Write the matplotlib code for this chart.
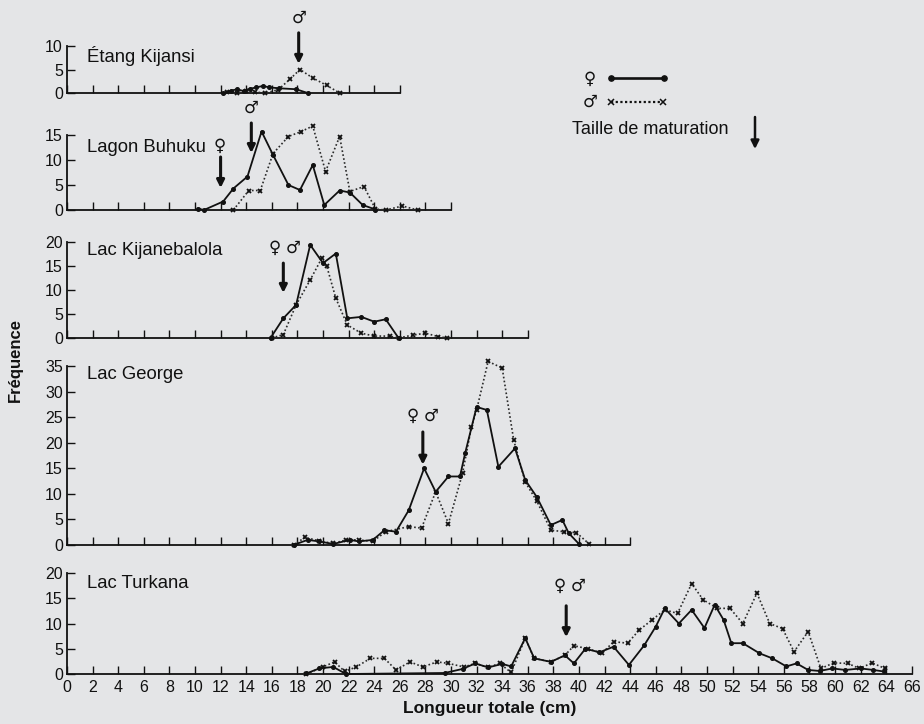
import matplotlib
matplotlib.use('Agg')
import matplotlib.pyplot as plt
from matplotlib.lines import Line2D
from matplotlib.patches import FancyArrowPatch

plt.rcParams['font.family'] = ['Liberation Sans', 'DejaVu Sans']

# ---------------- data ----------------
kijansi_f_x = [12.2, 12.8, 13.3, 13.8, 14.3, 14.8, 15.3, 15.8, 16.6, 17.9, 18.8]
kijansi_f_y = [0.0, 0.5, 0.8, 0.4, 0.9, 1.2, 1.5, 1.2, 1.0, 0.8, 0.0]
kijansi_m_x = [12.5, 13.3, 14.0, 14.7, 15.5, 16.5, 17.4, 18.2, 19.2, 20.3, 21.3]
kijansi_m_y = [0.2, 0.0, 0.5, 0.2, 0.0, 0.7, 2.9, 5.0, 3.2, 1.6, 0.0]

buhuku_f_x = [10.2, 10.7, 12.2, 13.0, 14.1, 15.2, 16.1, 17.3, 18.2, 19.2, 20.1, 21.3, 22.1, 23.1, 24.1]
buhuku_f_y = [0.3, 0.0, 1.7, 4.3, 6.7, 15.7, 11.0, 5.0, 4.0, 9.0, 1.0, 3.9, 3.5, 1.0, 0.1]
buhuku_m_x = [13.0, 14.2, 15.1, 16.1, 17.3, 18.3, 19.2, 20.2, 21.3, 22.1, 23.2, 24.1, 24.9, 26.2, 27.4]
buhuku_m_y = [0.0, 3.9, 3.9, 11.3, 14.7, 15.7, 16.8, 7.7, 14.7, 3.7, 4.7, 0.2, 0.0, 0.8, 0.0]

kijaneb_f_x = [15.9, 16.9, 17.9, 19.0, 20.0, 21.0, 21.9, 23.0, 24.0, 24.9, 25.9]
kijaneb_f_y = [0.0, 4.1, 6.9, 19.4, 15.6, 17.6, 4.1, 4.4, 3.4, 3.9, 0.0]
kijaneb_m_x = [16.0, 16.9, 17.9, 19.0, 19.9, 20.3, 21.0, 21.9, 23.0, 24.0, 25.2, 25.9, 27.0, 28.0, 29.0, 29.7]
kijaneb_m_y = [0.0, 0.7, 6.9, 12.1, 16.6, 14.9, 8.3, 2.7, 1.0, 0.4, 0.4, 0.0, 0.6, 1.0, 0.3, 0.0]

george_f_x = [17.7, 18.8, 19.7, 20.8, 22.1, 22.8, 23.9, 24.8, 25.7, 26.7, 27.9, 28.8, 29.8, 30.7,
              31.1, 32.0, 32.8, 33.7, 35.0, 35.8, 36.7, 37.8, 38.7, 39.2, 40.0]
george_f_y = [0.0, 1.0, 0.7, 0.2, 1.0, 0.7, 1.0, 2.9, 2.6, 6.8, 15.0, 10.4, 13.4, 13.4,
              17.9, 27.0, 26.4, 15.3, 18.9, 12.7, 9.4, 3.9, 4.9, 2.3, 0.2]
george_m_x = [17.7, 18.6, 19.7, 20.8, 21.8, 22.8, 23.9, 24.9, 26.7, 27.7, 28.8, 29.8, 30.9, 31.6,
              32.0, 32.9, 34.0, 34.9, 35.8, 36.7, 37.8, 38.8, 39.8, 40.8]
george_m_y = [0.0, 1.5, 0.8, 0.3, 1.0, 1.0, 0.7, 2.6, 3.6, 3.3, 10.4, 4.2, 14.0, 23.1,
              26.4, 35.9, 34.6, 20.5, 12.3, 8.6, 2.9, 2.6, 2.4, 0.2]

turkana_f_x = [18.7, 19.7, 20.8, 21.8, 29.5, 30.9, 31.9, 32.9, 34.0, 34.7, 35.8, 36.5, 37.8, 38.9,
               39.6, 40.5, 41.6, 42.7, 43.9, 45.1, 46.0, 46.7, 47.8, 48.8, 49.8, 50.6, 51.3, 51.9,
               52.8, 54.1, 55.1, 56.2, 57.0, 57.9, 58.8, 59.8, 60.8, 62.0, 63.0, 63.8]
turkana_f_y = [0.1, 1.1, 1.4, 0.0, 0.2, 1.0, 2.1, 1.3, 2.0, 1.5, 7.1, 3.1, 2.4, 3.7,
               2.1, 5.0, 4.3, 5.4, 1.8, 5.7, 9.4, 13.0, 10.0, 12.7, 9.1, 13.7, 10.7, 6.1,
               6.1, 4.1, 3.1, 1.5, 2.1, 0.8, 0.6, 1.1, 0.8, 1.1, 0.8, 0.5]
turkana_m_x = [18.7, 20.0, 20.9, 21.7, 22.6, 23.7, 24.8, 25.7, 26.8, 27.8, 28.9, 29.8, 31.0, 31.9,
               32.9, 33.8, 34.7, 35.8, 36.5, 37.8, 38.9, 39.6, 40.7, 41.8, 42.7, 43.8, 44.7, 45.7,
               46.7, 47.7, 48.8, 49.7, 50.8, 51.8, 52.8, 53.9, 54.9, 55.9, 56.8, 57.9, 58.9, 59.9,
               61.0, 61.9, 62.9, 63.9]
turkana_m_y = [0.0, 1.4, 2.4, 0.5, 1.4, 3.1, 3.1, 0.8, 2.4, 1.4, 2.4, 2.1, 1.4, 2.1,
               1.3, 2.1, 0.3, 7.1, 3.1, 2.4, 3.7, 5.6, 5.0, 4.1, 6.4, 6.1, 8.7, 10.7,
               12.7, 12.0, 17.9, 14.7, 13.0, 13.0, 10.0, 16.0, 10.0, 9.0, 4.4, 8.4, 1.1, 2.2,
               2.1, 1.1, 2.2, 1.1]

panel_names = ['Étang Kijansi', 'Lagon Buhuku', 'Lac Kijanebalola', 'Lac George', 'Lac Turkana']
panel_xmax = [26, 30, 36, 44, 66]
panel_ymax = [10, 15, 20, 35, 20]

# maturation arrows: (x, y_top, y_tip, symbol, symbol_x, symbol_y)
arrows = [
    [(18.1, 12.8, 6.2, '♂', 18.1, 16.0)],
    [(12.0, 10.6, 4.4, '♀', 11.9, 12.8), (14.4, 17.4, 11.4, '♂', 14.4, 20.4)],
    [(16.9, 15.6, 9.4, '♀', 16.25, 18.75), (None, None, None, '♂', 17.7, 18.75)],
    [(27.8, 22.1, 15.7, '♀', 27.0, 25.2), (None, None, None, '♂', 28.45, 25.2)],
    [(39.0, 13.5, 7.3, '♀', 38.5, 17.4), (None, None, None, '♂', 39.9, 17.4)],
]

females = [(kijansi_f_x, kijansi_f_y), (buhuku_f_x, buhuku_f_y), (kijaneb_f_x, kijaneb_f_y),
           (george_f_x, george_f_y), (turkana_f_x, turkana_f_y)]
males = [(kijansi_m_x, kijansi_m_y), (buhuku_m_x, buhuku_m_y), (kijaneb_m_x, kijaneb_m_y),
         (george_m_x, george_m_y), (turkana_m_x, turkana_m_y)]

# ---------------- layout ----------------
W, H = 924, 724
BG = '#e4e5e7'
INK = '#111111'
X0, SC = 67.0, 12.8           # pixel of 0 cm, pixels per cm
panel_px = [(46, 93), (135, 210), (242, 338), (366, 545), (573, 674)]
title_y = [7.9, 12.6, 18.3, 33.3, 18.0]

fig = plt.figure(figsize=(W / 100, H / 100), dpi=100, facecolor=BG)

for i in range(5):
    top, bot = panel_px[i]
    xmax, ymax = panel_xmax[i], panel_ymax[i]
    right = X0 + SC * xmax
    ax = fig.add_axes([X0 / W, 1 - bot / H, (right - X0) / W, (bot - top) / H])
    ax.set_facecolor('none')
    ax.set_xlim(0, xmax)
    ax.set_ylim(0, ymax)
    for s in ['top', 'right']:
        ax.spines[s].set_visible(False)
    for s in ['left', 'bottom']:
        ax.spines[s].set_linewidth(1.3)
        ax.spines[s].set_color(INK)
    ax.set_xticks(range(0, xmax + 1, 2))
    ax.set_yticks(range(0, ymax + 1, 5))
    ax.tick_params(axis='both', direction='in', length=5.5, width=1.0, labelsize=11.5,
                   colors=INK)
    ax.tick_params(axis='y', pad=3)
    ax.tick_params(axis='x', pad=4)
    if i < 4:
        ax.tick_params(axis='x', labelbottom=False)

    fx, fy = females[i]
    mx, my = males[i]
    ax.plot(mx, my, linestyle=(0, (1, 1.4)), color='#2a2a2a', lw=1.2, marker='x', ms=3.5,
            mew=1.3, mec=INK, clip_on=False, zorder=3)
    ax.plot(fx, fy, linestyle='-', color=INK, lw=1.3, marker='o', ms=2.6,
            mec=INK, mfc=INK, clip_on=False, zorder=4)

    ax.text(1.6, title_y[i], panel_names[i], fontsize=13.3, ha='left', va='center', color=INK)

    for (ax_x, y_top, y_tip, sym, sx, sy) in arrows[i]:
        if ax_x is not None:
            ax.annotate('', xy=(ax_x, y_tip), xytext=(ax_x, y_top),
                        arrowprops=dict(arrowstyle='-|>', color=INK, lw=2.2,
                                        mutation_scale=11, shrinkA=0, shrinkB=0),
                        annotation_clip=False)
        ax.text(sx, sy, sym, fontsize=12, ha='center', va='center', clip_on=False,
                color=INK, family=['DejaVu Sans'])

    if i == 4:
        ax.set_xlabel('Longueur totale (cm)', fontsize=12.5, fontweight='bold', labelpad=5,
                      color=INK)

fig.text(15 / W, 1 - 360 / H, 'Fréquence', rotation=90, fontsize=12, fontweight='bold',
         ha='center', va='center', color=INK)

# ---------------- legend ----------------
fig.text(590 / W, 1 - 79 / H, '♀', fontsize=12, ha='center', va='center', family=['DejaVu Sans'],
         color=INK)
fig.text(590 / W, 1 - 102 / H, '♂', fontsize=12, ha='center', va='center', family=['DejaVu Sans'],
         color=INK)
fig.add_artist(Line2D([611 / W, 664 / W], [1 - 78 / H, 1 - 78 / H], transform=fig.transFigure,
                      color=INK, lw=1.9, marker='o', ms=3.8))
fig.add_artist(Line2D([611 / W, 663 / W], [1 - 102 / H, 1 - 102 / H], transform=fig.transFigure,
                      color=INK, lw=1.6, linestyle=(0, (1, 1.1)), marker='x', ms=3.8, mew=1.1))
fig.text(572 / W, 1 - 130 / H, 'Taille de maturation', fontsize=13, ha='left', va='center',
         color=INK)
fig.add_artist(FancyArrowPatch((755 / W, 1 - 117 / H), (755 / W, 1 - 149 / H),
                               transform=fig.transFigure, arrowstyle='-|>',
                               mutation_scale=12, lw=1.8, color=INK, shrinkA=0, shrinkB=0))

fig.savefig('out.png', dpi=100, facecolor=BG)
